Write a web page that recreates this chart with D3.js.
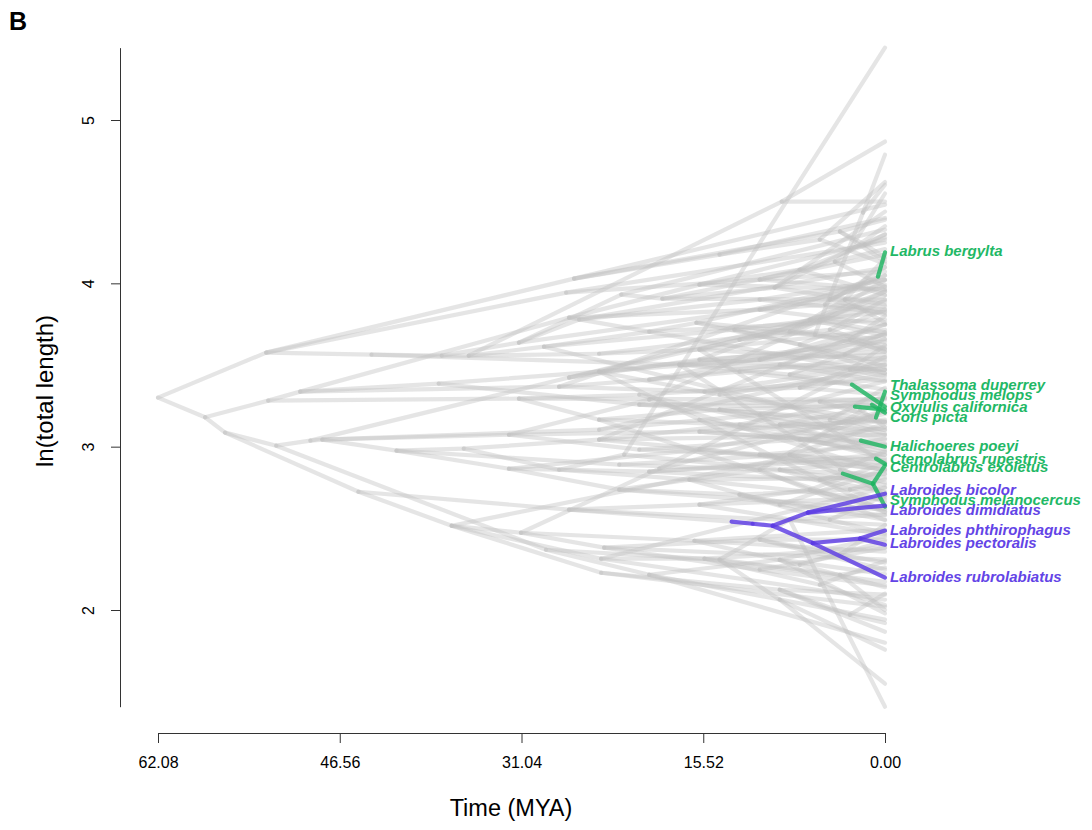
<!DOCTYPE html>
<html>
<head>
<meta charset="utf-8">
<script src="https://cdn.jsdelivr.net/npm/d3@7"></script>
<style>
  html, body { margin: 0; padding: 0; background: #ffffff; }
  svg { display: block; font-family: "Liberation Sans", Arial, sans-serif; }
</style>
</head>
<body>
<svg id="chart" width="1092" height="830"></svg>
<script>
// Time axis ticks (million years ago) and trait axis ticks
const timeTicks = [62.08, 46.56, 31.04, 15.52, 0];
const traitTicks = [2, 3, 4, 5];

// Internal nodes of the wrasse tree: [id, parent, age (MYA), ln(total length)]
const rootNodes = [
  ["n0", null, 62.08, 3.30],
  ["n1", "n0", 52.84, 3.576],
  ["n2", "n0", 58.06, 3.18],
  ["n3", "n2", 52.67, 3.282],
  ["n4", "n2", 56.35, 3.086]
];

const cladeANodes = [
  ["n10", "n1", 43.85, 3.563],
  ["n11", "n10", 37.85, 3.557],
  ["n12", "n11", 35.54, 3.557],
  ["n13", "n1", 26.55, 4.029],
  ["n19", "n1", 27.23, 3.943],
  ["n16", "n12", 8.82, 4.500],
  ["n17", "n13", 3.85, 4.317],
  ["n20", "n19", 10.70, 4.023],
  ["n21", "n11", 31.26, 3.637],
  ["n22", "n21", 22.52, 3.931],
  ["n23", "n22", 19.01, 3.906],
  ["n26", "n23", 9.42, 3.974],
  ["n24", "n12", 29.12, 3.612],
  ["n27", "n24", 20.13, 3.704],
  ["n28", "n27", 16.10, 3.759],
  ["n29", "n24", 12.85, 3.716],
  ["n30", "n29", 5.99, 3.686],
  ["n31", "n30", 1.88, 4.433],
  ["n32", "n12", 24.41, 3.569],
  ["n33", "n32", 15.84, 3.594],
  ["n34", "n32", 8.14, 3.704],
  ["n35", "n21", 26.12, 3.778],
  ["n36", "n10", 17.56, 3.502],
  ["n37", "n21", 4.71, 3.900]
];

const cladeCNodes = [
  ["n5", "n3", 49.93, 3.337],
  ["n40", "n3", 31.26, 3.294],
  ["n41", "n40", 20.98, 3.318],
  ["n42", "n5", 26.98, 3.790],
  ["n43", "n42", 15.84, 3.992],
  ["n44", "n42", 10.70, 3.839],
  ["n45", "n5", 27.83, 3.367],
  ["n46", "n45", 20.13, 3.410],
  ["n47", "n46", 12.42, 3.459],
  ["n48", "n45", 15.41, 3.337],
  ["n49", "n48", 7.28, 3.361],
  ["n50", "n5", 38.11, 3.386],
  ["n51", "n50", 24.41, 3.459],
  ["n52", "n51", 10.70, 3.533],
  ["n53", "n50", 20.98, 3.257],
  ["n54", "n53", 5.57, 3.276],
  ["n56", "n40", 24.41, 3.165],
  ["n57", "n56", 14.13, 3.227],
  ["n58", "n41", 8.99, 3.135]
];

const cladeDNodes = [
  ["n6", "n4", 51.98, 3.006],
  ["n60", "n4", 44.96, 2.724],
  ["n61", "n6", 49.07, 3.037],
  ["n62", "n61", 48.04, 3.043],
  ["n63", "n62", 41.71, 2.976],
  ["n64", "n63", 35.97, 2.988],
  ["n65", "n62", 32.11, 3.073],
  ["n66", "n63", 32.11, 2.865],
  ["n67", "n60", 37.00, 2.516],
  ["n68", "n6", 28.95, 2.369],
  ["n69", "n67", 31.09, 2.473],
  ["n70", "n61", 26.98, 3.423],
  ["n71", "n70", 15.84, 3.533],
  ["n72", "n65", 15.84, 3.092],
  ["n73", "n65", 20.98, 2.982],
  ["n74", "n73", 7.28, 3.043],
  ["n75", "n64", 24.41, 3.043],
  ["n76", "n75", 10.70, 2.951],
  ["n77", "n64", 27.83, 2.859],
  ["n78", "n77", 16.70, 2.798],
  ["n79", "n77", 22.27, 2.951],
  ["n80", "n79", 8.99, 2.859],
  ["n81", "n66", 22.69, 2.737],
  ["n82", "n81", 12.42, 2.706],
  ["n83", "n66", 20.13, 2.847],
  ["n84", "n83", 5.57, 2.798],
  ["n85", "n69", 23.98, 2.382],
  ["n86", "n85", 10.70, 2.431],
  ["n87", "n69", 16.27, 2.424],
  ["n88", "n67", 24.24, 2.314],
  ["n89", "n88", 15.41, 2.314],
  ["n90", "n67", 24.24, 2.228],
  ["n91", "n90", 8.99, 2.124],
  ["n92", "n68", 20.13, 2.216],
  ["n93", "n68", 14.13, 2.308],
  ["n94", "n93", 8.14, 2.553],
  ["n95", "n93", 8.99, 2.063],
  ["n96", "n60", 26.98, 2.614],
  ["n97", "n96", 15.84, 2.645]
];

// Younger splits within the crown groups
const recentNodes = [
  ["y1", "n20", 4.28, 4.133], ["y2", "n26", 3.00, 4.206], ["y3", "n34", 3.43, 3.900],
  ["y4", "n28", 7.28, 3.625], ["y5", "n33", 5.57, 3.778], ["y6", "n36", 8.14, 3.441],
  ["y7", "n52", 3.00, 3.655], ["y8", "n44", 5.14, 3.870], ["y9", "n71", 6.42, 3.778],
  ["y10", "n70", 12.42, 3.655], ["y11", "y10", 4.71, 3.716], ["y12", "n51", 14.13, 3.318],
  ["y13", "n57", 4.71, 3.165], ["y14", "n72", 6.42, 3.043], ["y15", "n76", 3.85, 2.859],
  ["y16", "n78", 8.99, 2.645], ["y17", "n80", 3.00, 2.737], ["y18", "n82", 4.71, 2.553],
  ["y19", "n86", 3.85, 2.339], ["y20", "n87", 7.28, 2.277], ["y21", "n89", 5.57, 2.155],
  ["y22", "n91", 3.00, 1.971], ["y23", "n92", 8.99, 2.308], ["y24", "n97", 6.42, 2.737],
  ["y25", "n75", 12.42, 3.135], ["y26", "n58", 2.14, 3.227], ["y27", "n49", 3.00, 3.472],
  ["y28", "n17", 1.71, 4.237], ["y29", "n43", 7.28, 4.084], ["y30", "n13", 14.13, 4.176],
  ["y31", "y30", 5.57, 4.268], ["y32", "n35", 10.70, 3.900], ["y33", "n46", 8.99, 3.502],
  ["y34", "n63", 22.69, 2.890], ["y35", "y34", 8.14, 2.951], ["y36", "n85", 10.70, 2.247],
  ["y37", "n93", 3.85, 2.216], ["y38", "n66", 15.84, 2.982], ["y39", "n62", 24.41, 3.104],
  ["y40", "y39", 10.70, 3.196], ["y41", "n29", 3.43, 3.563],
  ["z1", "n69", 19.27, 2.865], ["z2", "n51", 15.84, 3.165], ["z3", "n65", 20.13, 3.288],
  ["z8", "n81", 10.70, 2.859]
];

// Points along branches where the painted (cleaner) regime begins
const regimeShiftNodes = [
  ["b1", "n37", 0.60, 4.041],
  ["b2", "n47", 2.83, 3.380],
  ["b3", "n53", 2.57, 3.245],
  ["b4", "n54", 0.77, 3.178],
  ["b5", "n54", 1.11, 3.257],
  ["b6", "n74", 2.06, 3.037],
  ["b7", "n83", 0.77, 2.927],
  ["b8", "n84", 3.60, 2.835],
  ["b9", "n96", 13.10, 2.541]
];

// Painted internal nodes: [id, parent, age, value, regime]
const cleanerNodes = [
  ["c1", "b8", 1.03, 2.773, "facultative"],
  ["l0", "b9", 11.30, 2.528, "obligate"],
  ["l1", "l0", 9.59, 2.516, "obligate"],
  ["l2", "l1", 6.59, 2.596, "obligate"],
  ["l3", "l1", 6.17, 2.410, "obligate"],
  ["l4", "l3", 2.14, 2.437, "obligate"]
];

// Unlabelled extant species: [parent, ln(total length)]
const grayTips = [
  ["n16", 4.868], ["n16", 4.500], ["n13", 4.482], ["n17", 4.390], ["n17", 4.133],
  ["n19", 4.249], ["n20", 3.961], ["n20", 4.072], ["n22", 4.329], ["n23", 4.176],
  ["n23", 3.900], ["n26", 4.439], ["n26", 3.870], ["n27", 3.778], ["n28", 4.023],
  ["n28", 3.655], ["n29", 3.827], ["n31", 4.788], ["n31", 4.604], ["n30", 3.594],
  ["n33", 3.716], ["n33", 3.533], ["n34", 3.925], ["n34", 3.625], ["n35", 4.096],
  ["n36", 3.472], ["n36", 3.582], ["n37", 4.047], ["n37", 3.808],
  ["n40", 3.288], ["n41", 3.410], ["n43", 4.268], ["n43", 3.961], ["n44", 3.992],
  ["n44", 3.747], ["n46", 3.686], ["n47", 3.545], ["n48", 3.502], ["n49", 3.441],
  ["n49", 3.318], ["n51", 3.643], ["n52", 3.747], ["n52", 3.563], ["n53", 3.153],
  ["n54", 3.294], ["n56", 3.104], ["n57", 3.257], ["n57", 3.043], ["n58", 3.153],
  ["n58", 2.982],
  ["n70", 3.888], ["n71", 3.472], ["n71", 3.606], ["n72", 3.165], ["n72", 3.012],
  ["n73", 2.920], ["n74", 3.116], ["n74", 2.969], ["n75", 3.073], ["n76", 2.859],
  ["n76", 3.012], ["n78", 2.810], ["n78", 2.675], ["n79", 5.443], ["n80", 2.908],
  ["n80", 2.767], ["n81", 2.614], ["n82", 2.749], ["n82", 2.553], ["n83", 2.951],
  ["n84", 2.835], ["n84", 2.724], ["n85", 2.308], ["n86", 2.431], ["n86", 2.247],
  ["n87", 2.492], ["n87", 2.357], ["n89", 2.173], ["n89", 2.382], ["n88", 2.063],
  ["n90", 2.020], ["n91", 2.094], ["n91", 1.867], ["n92", 1.941], ["n92", 1.800],
  ["n94", 1.408], ["n94", 2.584], ["n95", 1.757], ["n95", 1.549], ["n96", 2.522],
  ["n97", 2.688], ["n97", 2.461]
];

const recentTips = [
  ["y1", 4.35], ["y1", 3.98], ["y1", 4.21], ["y2", 4.55], ["y2", 4.30],
  ["y3", 4.15], ["y3", 3.76], ["y3", 3.98], ["y4", 3.84], ["y4", 3.45],
  ["y5", 4.02], ["y5", 3.70], ["y6", 3.66], ["y6", 3.52], ["y6", 3.35],
  ["y7", 3.80], ["y7", 3.58], ["y8", 4.10], ["y8", 3.84], ["y9", 3.95],
  ["y9", 3.68], ["y10", 3.86], ["y11", 3.60], ["y11", 3.90], ["y12", 3.47],
  ["y12", 3.15], ["y13", 3.36], ["y13", 3.08], ["y14", 3.22], ["y14", 2.93],
  ["y15", 2.97], ["y15", 2.78], ["y16", 2.86], ["y16", 2.58], ["y17", 2.80],
  ["y17", 2.66], ["y18", 2.70], ["y18", 2.47], ["y19", 2.52], ["y19", 2.29],
  ["y20", 2.42], ["y20", 2.14], ["y21", 2.30], ["y21", 2.03], ["y22", 2.10],
  ["y22", 1.92], ["y23", 2.45], ["y23", 2.22], ["y23", 1.98], ["y24", 2.90],
  ["y24", 2.62], ["y25", 3.30], ["y25", 3.02], ["y26", 3.12], ["y27", 3.62],
  ["y27", 3.43], ["y28", 4.30], ["y28", 4.16], ["y29", 4.28], ["y29", 3.93],
  ["y30", 4.40], ["y31", 4.62], ["y31", 4.12], ["y32", 4.02], ["y32", 3.82],
  ["y33", 3.69], ["y33", 3.40], ["y34", 2.83], ["y35", 3.14], ["y35", 2.88],
  ["y35", 2.72], ["y36", 2.38], ["y36", 2.15], ["y37", 2.00], ["y37", 2.26],
  ["y38", 3.20], ["y38", 2.86], ["y39", 3.50], ["y40", 3.40], ["y40", 3.07],
  ["y41", 3.70], ["y41", 3.49],
  ["z1", 3.55], ["z1", 3.22], ["z2", 2.60], ["z2", 2.95], ["z3", 3.95],
  ["z3", 2.85], ["z8", 3.30], ["z8", 2.55], ["n33", 2.90], ["n88", 2.75],
  ["n36", 2.70], ["n75", 3.75], ["n45", 4.05], ["n56", 2.60], ["n67", 3.05],
  ["n24", 3.10], ["n42", 3.45]
];

// Labelled cleaner species: [name, parent, ln(total length), label position, regime]
const cleanerTips = [
  ["Labrus bergylta", "b1", 4.190, 4.200, "facultative"],
  ["Thalassoma duperrey", "b4", 3.337, 3.380, "facultative"],
  ["Symphodus melops", "b2", 3.245, 3.318, "facultative"],
  ["Oxyjulis californica", "b3", 3.227, 3.247, "facultative"],
  ["Coris picta", "b5", 3.208, 3.184, "facultative"],
  ["Halichoeres poeyi", "b6", 3.000, 3.006, "facultative"],
  ["Ctenolabrus rupestris", "b7", 2.895, 2.927, "facultative"],
  ["Centrolabrus exoletus", "c1", 2.885, 2.878, "facultative"],
  ["Symphodus melanocercus", "c1", 2.633, 2.675, "facultative"],
  ["Labroides bicolor", "l2", 2.712, 2.737, "obligate"],
  ["Labroides dimidiatus", "l2", 2.639, 2.614, "obligate"],
  ["Labroides phthirophagus", "l4", 2.486, 2.492, "obligate"],
  ["Labroides pectoralis", "l4", 2.400, 2.412, "obligate"],
  ["Labroides rubrolabiatus", "l3", 2.198, 2.204, "obligate"]
];

const regimeColor = { background: "#c1c1c1", facultative: "#1fb462", obligate: "#5b3be3" };
const regimeText = { facultative: "#1fb866", obligate: "#6344e6" };

// ---- assemble the tree ----
const nodes = new Map();
function addNode(id, parent, age, value, regime) {
  nodes.set(id, { id, parent, age, value, regime });
}
[...rootNodes, ...cladeANodes, ...cladeCNodes, ...cladeDNodes, ...recentNodes, ...regimeShiftNodes]
  .forEach(([id, p, a, v]) => addNode(id, p, a, v, "background"));
cleanerNodes.forEach(([id, p, a, v, r]) => addNode(id, p, a, v, r));
[...grayTips, ...recentTips].forEach(([p, v], i) => addNode("t" + i, p, 0, v, "background"));
cleanerTips.forEach(([name, p, v, lv, r]) => addNode(name, p, 0, v, r));

const edges = [];
nodes.forEach(n => {
  if (n.parent) edges.push({ from: nodes.get(n.parent), to: n, regime: n.regime });
});

// ---- scales ----
const svg = d3.select("#chart");
const x = d3.scaleLinear().domain([62.08, 0]).range([158, 885]);
const y = d3.scaleLinear().domain([2, 5]).range([610, 120]);
const valueExtent = d3.extent(Array.from(nodes.values()), d => d.value);
const yAxisScale = y.copy().domain(valueExtent).range(valueExtent.map(y));

// ---- branches ----
const branchLayer = svg.append("g");
function drawBranches(list, color, opacity) {
  branchLayer.append("g")
    .selectAll("line")
    .data(list)
    .join("line")
    .attr("x1", d => x(d.from.age))
    .attr("y1", d => y(d.from.value))
    .attr("x2", d => x(d.to.age))
    .attr("y2", d => y(d.to.value))
    .attr("stroke", color)
    .attr("stroke-opacity", opacity)
    .attr("stroke-width", 4.2)
    .attr("stroke-linecap", "round");
}
drawBranches(edges.filter(e => e.regime === "background"), regimeColor.background, 0.42);
drawBranches(edges.filter(e => e.regime === "facultative"), regimeColor.facultative, 0.82);
drawBranches(edges.filter(e => e.regime === "obligate"), regimeColor.obligate, 0.82);

// ---- tip labels for cleaner species ----
svg.append("g")
  .selectAll("text")
  .data(cleanerTips)
  .join("text")
  .attr("x", x(0) + 5)
  .attr("y", d => y(d[3]))
  .attr("dy", "0.35em")
  .attr("fill", d => regimeText[d[4]])
  .attr("font-size", 15)
  .attr("font-weight", "bold")
  .attr("font-style", "italic")
  .text(d => d[0]);

// ---- axes ----
const xAxis = svg.append("g")
  .attr("transform", "translate(0,733)")
  .call(d3.axisBottom(x).tickValues(timeTicks).tickFormat(d => d.toFixed(2))
    .tickSize(10).tickSizeOuter(0).tickPadding(14));
xAxis.selectAll("text").attr("font-size", 16).attr("fill", "#000");
xAxis.selectAll("line, path").attr("stroke", "#333");

const yAxis = svg.append("g")
  .attr("transform", "translate(120,0)")
  .call(d3.axisLeft(yAxisScale).tickValues(traitTicks).tickFormat(d3.format("d"))
    .tickSize(9).tickSizeOuter(0));
yAxis.selectAll("line, path").attr("stroke", "#333");
yAxis.selectAll("text")
  .attr("font-size", 16)
  .attr("fill", "#000")
  .attr("x", 0)
  .attr("y", -26)
  .attr("dy", 0)
  .attr("text-anchor", "middle")
  .attr("transform", "rotate(-90)");

svg.append("text")
  .attr("x", 511).attr("y", 808)
  .attr("dy", "0.35em")
  .attr("text-anchor", "middle")
  .attr("font-size", 23.5)
  .text("Time (MYA)");

svg.append("text")
  .attr("transform", "translate(45,391) rotate(-90)")
  .attr("dy", "0.35em")
  .attr("text-anchor", "middle")
  .attr("font-size", 24)
  .text("ln(total length)");

svg.append("text")
  .attr("x", 9).attr("y", 30)
  .attr("font-size", 25)
  .attr("font-weight", "bold")
  .text("B");
</script>
</body>
</html>
